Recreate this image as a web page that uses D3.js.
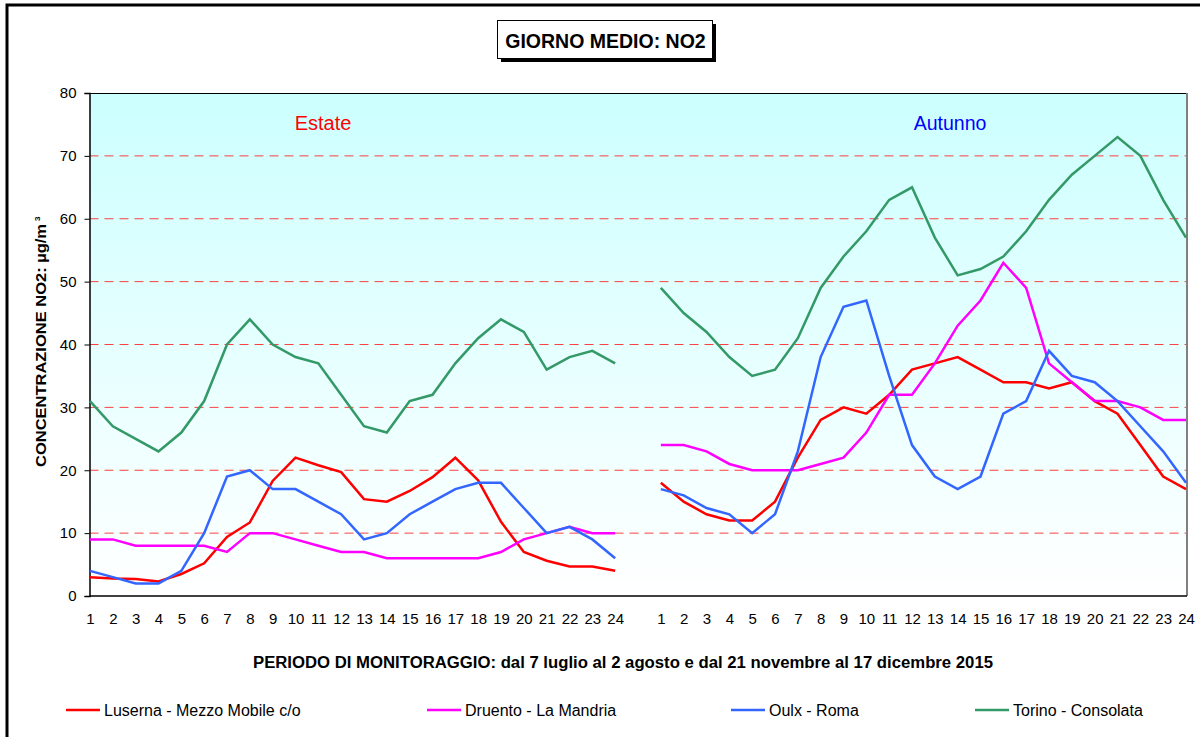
<!DOCTYPE html>
<html>
<head>
<meta charset="utf-8">
<script src="https://cdn.jsdelivr.net/npm/d3@7"></script>
<style>
  html, body { margin: 0; padding: 0; background: #fff; }
  svg { display: block; font-family: "Liberation Sans", Arial, sans-serif; }
</style>
</head>
<body>
<svg id="chart" width="1200" height="737"></svg>
<script>
// ---- data ----
const hourLabels = ["1","2","3","4","5","6","7","8","9","10","11","12","13","14","15","16","17","18","19","20","21","22","23","24"];
const yTicks = [0, 10, 20, 30, 40, 50, 60, 70, 80];
const seriesNames = ["Luserna - Mezzo Mobile c/o", "Druento - La Mandria", "Oulx - Roma", "Torino - Consolata"];
const seriesColors = ["#ff0000", "#ff00ff", "#3366ff", "#339966"];
const periodLabels = ["Estate", "Autunno"];
const periodColors = ["#ff0000", "#0000ff"];

// Estate (summer) values, hours 1..24
const luserna_estate = [3, 2.8, 2.7, 2.3, 3.5, 5.2, 9.4, 11.7, 18.3, 22, 20.8, 19.7, 15.4, 15, 16.7, 18.9, 22, 18.4, 11.8, 7, 5.6, 4.7, 4.7, 4];
const druento_estate = [9, 9, 8, 8, 8, 8, 7, 10, 10, 9, 8, 7, 7, 6, 6, 6, 6, 6, 7, 9, 10, 11, 10, 10];
const oulx_estate    = [4, 3, 2, 2, 4, 10, 19, 20, 17, 17, 15, 13, 9, 10, 13, 15, 17, 18, 18, 14, 10, 11, 9, 6];
const torino_estate  = [31, 27, 25, 23, 26, 31, 40, 44, 40, 38, 37, 32, 27, 26, 31, 32, 37, 41, 44, 42, 36, 38, 39, 37];

// Autunno (autumn) values, hours 1..24
const luserna_autunno = [18, 15, 13, 12, 12, 15, 22, 28, 30, 29, 32, 36, 37, 38, 36, 34, 34, 33, 34, 31, 29, 24, 19, 17];
const druento_autunno = [24, 24, 23, 21, 20, 20, 20, 21, 22, 26, 32, 32, 37, 43, 47, 53, 49, 37, 34, 31, 31, 30, 28, 28];
const oulx_autunno    = [17, 16, 14, 13, 10, 13, 23, 38, 46, 47, 35, 24, 19, 17, 19, 29, 31, 39, 35, 34, 31, 27, 23, 18];
const torino_autunno  = [49, 45, 42, 38, 35, 36, 41, 49, 54, 58, 63, 65, 57, 51, 52, 54, 58, 63, 67, 70, 73, 70, 63, 57];

const estate = [luserna_estate, druento_estate, oulx_estate, torino_estate];
const autunno = [luserna_autunno, druento_autunno, oulx_autunno, torino_autunno];

// ---- layout ----
const svg = d3.select("#chart");
const plot = { left: 89.5, right: 1187, top: 93, bottom: 596 };
const nCat = hourLabels.length * 2 + 1; // 24 + gap + 24

const x = d3.scaleLinear().domain([0, nCat - 1]).range([plot.left + 0.5, plot.right - 1]);
const y = d3.scaleLinear().domain([0, 80]).range([plot.bottom, plot.top]);

// outer frame
svg.append("rect").attr("x", 7).attr("y", 5).attr("width", 1250).attr("height", 800)
  .attr("fill", "none").attr("stroke", "#000").attr("stroke-width", 3);

// background gradient
const defs = svg.append("defs");
const grad = defs.append("linearGradient").attr("id", "bg").attr("x1", 0).attr("y1", 0).attr("x2", 0).attr("y2", 1);
grad.append("stop").attr("offset", "0%").attr("stop-color", "#ccffff");
grad.append("stop").attr("offset", "100%").attr("stop-color", "#ffffff");
svg.append("rect").attr("x", plot.left).attr("y", plot.top)
  .attr("width", plot.right - plot.left).attr("height", plot.bottom - plot.top)
  .attr("fill", "url(#bg)");

// grid lines
svg.append("g").selectAll("line").data(yTicks.filter(v => v > 0 && v < 80)).join("line")
  .attr("x1", plot.left).attr("x2", plot.right)
  .attr("y1", d => y(d)).attr("y2", d => y(d))
  .attr("stroke", "#ff2020").attr("stroke-opacity", 0.85)
  .attr("stroke-width", 1).attr("stroke-dasharray", "9,6");

// top border and right border
svg.append("line").attr("x1", plot.left).attr("x2", plot.right).attr("y1", plot.top + 0.5).attr("y2", plot.top + 0.5)
  .attr("stroke", "#000").attr("stroke-width", 1);
svg.append("line").attr("x1", plot.right).attr("x2", plot.right).attr("y1", plot.top).attr("y2", plot.bottom)
  .attr("stroke", "#808080").attr("stroke-width", 2);

// y axis
const yAxis = d3.axisLeft(y).tickValues(yTicks).tickSize(5).tickPadding(8).tickFormat(d3.format("d"));
const gy = svg.append("g").attr("transform", `translate(${plot.left},0)`).call(yAxis);
gy.select(".domain").attr("stroke", "#000").attr("stroke-width", 1.5);
gy.selectAll(".tick line").attr("stroke", "#000");
gy.selectAll("text").attr("font-size", 15).attr("fill", "#000")
  .attr("font-family", "Liberation Sans, Arial, sans-serif");

// x axis
const xTickVals = [];
hourLabels.forEach((h, i) => xTickVals.push(i));
hourLabels.forEach((h, i) => xTickVals.push(i + hourLabels.length + 1));
const xAxis = d3.axisBottom(x).tickValues(xTickVals).tickSize(0).tickPadding(17)
  .tickFormat(d => d < hourLabels.length ? hourLabels[d] : hourLabels[d - hourLabels.length - 1]);
const gx = svg.append("g").attr("transform", `translate(0,${plot.bottom})`).call(xAxis);
gx.select(".domain").attr("stroke", "#000").attr("stroke-width", 1.5)
  .attr("d", `M${plot.left},0H${plot.right}`);
gx.selectAll("text").attr("font-size", 15).attr("fill", "#000")
  .attr("font-family", "Liberation Sans Narrow, Liberation Sans, Arial, sans-serif");

// lines
const line = d3.line().x(d => x(d[0])).y(d => y(d[1]));
seriesNames.forEach((name, s) => {
  const estPts = estate[s].map((v, i) => [i, v]);
  const autPts = autunno[s].map((v, i) => [i + hourLabels.length + 1, v]);
  [estPts, autPts].forEach(pts => {
    svg.append("path").datum(pts).attr("d", line)
      .attr("fill", "none").attr("stroke", seriesColors[s]).attr("stroke-width", 2.5)
      .attr("stroke-linejoin", "miter");
  });
});

// period labels
svg.append("text").attr("x", 323).attr("y", 130).attr("text-anchor", "middle")
  .attr("font-size", 20).attr("fill", periodColors[0]).text(periodLabels[0]);
svg.append("text").attr("x", 950).attr("y", 130).attr("text-anchor", "middle")
  .attr("font-size", 19.5).attr("fill", periodColors[1]).text(periodLabels[1]);

// title box
svg.append("rect").attr("x", 501).attr("y", 24).attr("width", 215).attr("height", 38).attr("fill", "#000");
svg.append("rect").attr("x", 497.5).attr("y", 20.5).attr("width", 215).attr("height", 38)
  .attr("fill", "#fff").attr("stroke", "#000").attr("stroke-width", 1);
svg.append("text").attr("x", 605.5).attr("y", 47.5).attr("text-anchor", "middle")
  .attr("font-size", 19.5).attr("font-weight", "bold").text("GIORNO MEDIO: NO2");

// y axis title
svg.append("text").attr("transform", "translate(46,467) rotate(-90)")
  .attr("text-anchor", "start").attr("font-size", 14).attr("font-weight", "bold")
  .attr("textLength", 243).attr("lengthAdjust", "spacingAndGlyphs")
  .text("CONCENTRAZIONE NO2:  µg/m");
svg.append("text").attr("transform", "translate(40,221) rotate(-90)")
  .attr("text-anchor", "start").attr("font-size", 8).attr("font-weight", "bold").text("3");

// x axis title
svg.append("text").attr("x", 253).attr("y", 668).attr("text-anchor", "start")
  .attr("font-size", 16).attr("font-weight", "bold")
  .attr("textLength", 740).attr("lengthAdjust", "spacingAndGlyphs")
  .text("PERIODO DI MONITORAGGIO: dal 7 luglio al 2 agosto e dal 21 novembre al 17 dicembre 2015");

// legend
const legendX = [66, 427, 731, 975];
const lg = svg.append("g").selectAll("g").data(seriesNames).join("g")
  .attr("transform", (d, i) => `translate(${legendX[i]},710)`);
lg.append("line").attr("x1", 0).attr("x2", 34).attr("y1", 0).attr("y2", 0)
  .attr("stroke", (d, i) => seriesColors[i]).attr("stroke-width", 2.5);
lg.append("text").attr("x", 38).attr("y", 5.5).attr("font-size", 16).text(d => d);
</script>
</body>
</html>
